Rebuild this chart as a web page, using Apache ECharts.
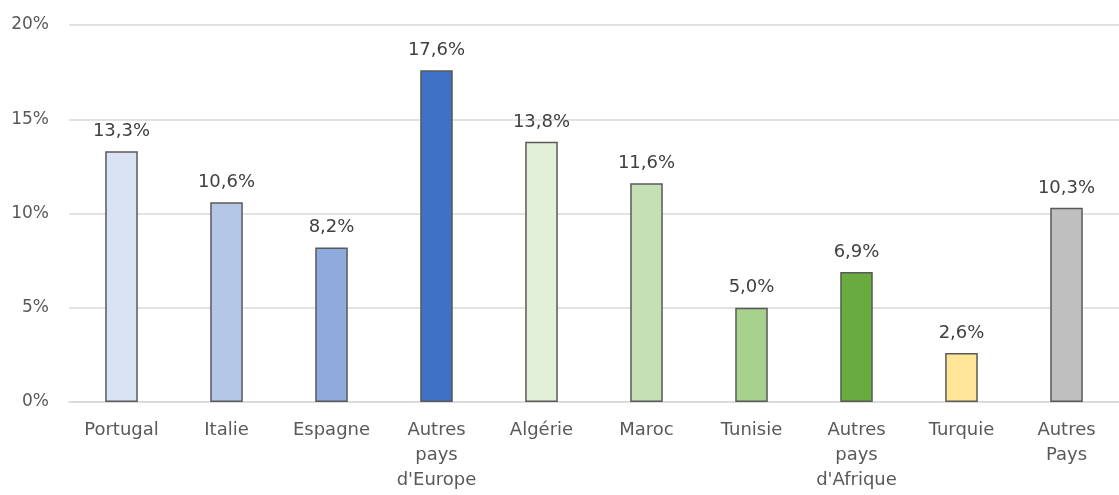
<!DOCTYPE html>
<html>
<head>
<meta charset="utf-8">
<script src="https://cdn.jsdelivr.net/npm/echarts@6/dist/echarts.min.js"></script>
<style>
  html, body { margin: 0; padding: 0; background: #fff; }
  #chart { width: 1119px; height: 495px; }
</style>
</head>
<body>
<div id="chart"></div>
<script>
  var categories = ['Portugal', 'Italie', 'Espagne', 'Autres\npays\nd\'Europe', 'Algérie', 'Maroc', 'Tunisie', 'Autres\npays\nd\'Afrique', 'Turquie', 'Autres\nPays'];
  var shares = [13.3, 10.6, 8.2, 17.6, 13.8, 11.6, 5.0, 6.9, 2.6, 10.3];
  var barColors = ['#dae3f3', '#b4c7e7', '#8faadc', '#3f72c6', '#e2f0d9', '#c5e0b4', '#a9d18e', '#6aab3f', '#ffe699', '#bfbfbf'];
  var yTicks = [0, 5, 10, 15, 20];

  var fontFamily = 'DejaVu Sans, sans-serif';
  var chart = echarts.init(document.getElementById('chart'));

  var option = {
    animation: false,
    grid: { left: 69, right: 0, top: 25, bottom: 93 },
    xAxis: {
      type: 'category',
      data: categories,
      axisLine: { lineStyle: { color: '#d9d9d9', width: 1.5 } },
      axisTick: { show: false },
      axisLabel: {
        color: '#595959',
        fontSize: 18,
        fontFamily: fontFamily,
        lineHeight: 25,
        margin: 16,
        interval: 0
      }
    },
    yAxis: {
      type: 'value',
      min: yTicks[0],
      max: yTicks[yTicks.length - 1],
      interval: 5,
      axisLine: { show: false },
      axisTick: { show: false },
      splitLine: { lineStyle: { color: '#d9d9d9', width: 1.5 } },
      axisLabel: {
        color: '#595959',
        fontSize: 17,
        fontFamily: fontFamily,
        margin: 20,
        formatter: function (v) { return v + '%'; }
      }
    },
    series: [{
      type: 'bar',
      barWidth: '31%',
      data: shares.map(function (v, i) {
        return {
          value: v,
          itemStyle: { color: barColors[i], borderColor: '#595959', borderWidth: 1.5 }
        };
      }),
      label: {
        show: true,
        position: 'top',
        distance: 11,
        color: '#404040',
        fontSize: 18,
        fontFamily: fontFamily,
        formatter: function (p) { return p.value.toFixed(1).replace('.', ',') + '%'; }
      }
    }]
  };

  chart.setOption(option);
</script>
</body>
</html>
